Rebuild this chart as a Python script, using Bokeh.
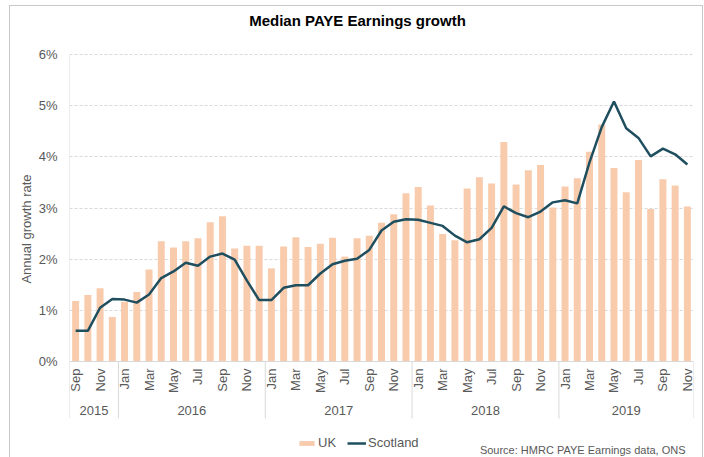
import numpy as np
from bokeh.plotting import figure
from bokeh.models import (Range1d, FixedTicker, LinearAxis, PrintfTickFormatter, Legend,
                          LegendItem, Grid, Label, Span)
from bokeh.core.properties import value
from bokeh.embed import file_html
from bokeh.resources import INLINE

# ---------------- data ----------------
years = ["2015", "2016", "2017", "2018", "2019"]
all_months = ["Jan", "Feb", "Mar", "Apr", "May", "Jun",
              "Jul", "Aug", "Sep", "Oct", "Nov", "Dec"]
months_per_year = [all_months[8:], all_months, all_months, all_months, all_months[:11]]

uk = [1.18, 1.30, 1.43, 0.87,
      1.17, 1.36, 1.80, 2.35, 2.23, 2.35, 2.41, 2.72, 2.84, 2.21, 2.26, 2.26,
      1.82, 2.25, 2.43, 2.24, 2.30, 2.42, 2.05, 2.41, 2.46, 2.71, 2.88, 3.29,
      3.41, 3.05, 2.49, 2.37, 3.38, 3.60, 3.48, 4.29, 3.46, 3.74, 3.84, 3.01,
      3.42, 3.58, 4.10, 4.63, 3.78, 3.31, 3.94, 2.98, 3.56, 3.44, 3.03]
scotland = [0.60, 0.60, 1.05, 1.22,
            1.21, 1.15, 1.31, 1.63, 1.76, 1.93, 1.87, 2.05, 2.11, 1.99, 1.58, 1.20,
            1.20, 1.44, 1.49, 1.49, 1.72, 1.90, 1.97, 2.01, 2.18, 2.56, 2.73, 2.78,
            2.77, 2.71, 2.65, 2.46, 2.33, 2.39, 2.61, 3.03, 2.90, 2.82, 2.93, 3.11,
            3.15, 3.09, 3.89, 4.58, 5.08, 4.56, 4.37, 4.01, 4.16, 4.05, 3.85]
y_ticks = [0, 1, 2, 3, 4, 5, 6]

title_text = "Median PAYE Earnings growth"
y_label = "Annual growth rate"
source_text = "Source: HMRC PAYE Earnings data, ONS"

# ---------------- derived ----------------
month_labels = [m for ms in months_per_year for m in ms]
n = len(month_labels)
x = list(range(n))
counts = [len(ms) for ms in months_per_year]
starts = list(np.cumsum([0] + counts[:-1]))
year_centers = [float(s + (c - 1) / 2) for s, c in zip(starts, counts)]
bounds = [float(s) - 0.5 for s in starts] + [n - 0.5]
mticks = x[::2]

FONT = "Liberation Sans"
GREY_TXT = "#595959"
GRID = "#d9d9d9"
FRAME = "#c8c8c8"

# layout (pixels): plot area 0% at y=361, 6% at y=54, canvas 457 high
W, H = 704, 457
Y0_PX, Y6_PX = 361, 54
ppu = (Y0_PX - Y6_PX) / 6.0
y_top = 6 + Y6_PX / ppu
y_bot = -(H - Y0_PX) / ppu
px = lambda d: d / ppu  # pixel distance -> data units

p = figure(width=W, height=H, x_range=Range1d(-0.5, n - 0.5), y_range=Range1d(y_bot, y_top),
           output_backend="svg", toolbar_location=None,
           x_axis_type=None, y_axis_type=None,
           min_border_left=69, min_border_right=11, min_border_top=0, min_border_bottom=0)
p.outline_line_color = None
p.background_fill_alpha = 0
p.border_fill_alpha = 0
# thin grey chart-area border drawn behind the (transparent) canvas
p.styles = {
    "background-color": "white",
    "background-image": ("linear-gradient(%s,%s), linear-gradient(%s,%s), linear-gradient(%s,%s)"
                         % (FRAME, FRAME, FRAME, FRAME, FRAME, FRAME)),
    "background-size": "1px 100%, 694px 1px, 1px 100%",
    "background-position": "9px 5px, 9px 5px, 702px 5px",
    "background-repeat": "no-repeat",
}

# y axis
yax = LinearAxis(ticker=FixedTicker(ticks=y_ticks),
                 formatter=PrintfTickFormatter(format="%d%%"),
                 axis_label=y_label)
yax.axis_line_color = None
yax.major_tick_line_color = None
yax.minor_tick_line_color = None
yax.major_tick_out = 0
yax.major_tick_in = 0
yax.minor_tick_out = 0
yax.minor_tick_in = 0
yax.major_label_standoff = 12
yax.major_label_text_font = FONT
yax.major_label_text_font_size = "13px"
yax.major_label_text_color = GREY_TXT
yax.axis_label_text_font = FONT
yax.axis_label_text_font_size = "13px"
yax.axis_label_text_font_style = "normal"
yax.axis_label_text_color = GREY_TXT
yax.axis_label_standoff = 2
p.add_layout(yax, "left")

p.add_layout(Grid(dimension=1, ticker=FixedTicker(ticks=y_ticks[1:]),
                  grid_line_color=GRID, grid_line_dash="3 2", grid_line_width=1))

# category axis line, left axis line and year separators
p.add_layout(Span(location=0, dimension="width", line_color=GRID, line_width=1))
p.segment(x0=[bounds[0]], y0=[0], x1=[bounds[0]], y1=[y_ticks[-1]], line_color=GRID, line_width=1)
p.segment(x0=bounds, y0=[0] * len(bounds), x1=bounds, y1=[-px(57)] * len(bounds),
          line_color=GRID, line_width=1)

bars = p.vbar(x=x, top=uk, width=0.57, fill_color="#f8cbad", line_color=None)
line = p.line(x=x, y=scotland, line_color="#1f4e5f", line_width=2.5)

# month and year tick labels
p.text(x=mticks, y=[-px(7)] * len(mticks), text=[month_labels[i] for i in mticks],
       angle=np.pi / 2, text_align="right", text_baseline="middle",
       text_font=value(FONT), text_font_size="13px", text_color=GREY_TXT)
p.text(x=year_centers, y=[-px(49)] * len(years), text=years,
       text_align="center", text_baseline="middle",
       text_font=value(FONT), text_font_size="13px", text_color=GREY_TXT)

legend = Legend(items=[LegendItem(label="UK", renderers=[bars]),
                       LegendItem(label="Scotland", renderers=[line])],
                orientation="horizontal", location=(228, 7),
                padding=0, margin=0, spacing=9, label_standoff=2,
                glyph_width=19, glyph_height=6, label_height=15,
                border_line_color=None, background_fill_alpha=0,
                label_text_font=FONT, label_text_font_size="13px",
                label_text_color=GREY_TXT)
p.add_layout(legend)

# title and source note
p.add_layout(Label(x=357 - 69, y=H - 20, x_units="screen", y_units="screen",
                   text=title_text, text_align="center", text_baseline="middle",
                   text_font=FONT, text_font_size="15px", text_font_style="bold",
                   text_color="#000000"))
p.add_layout(Label(x=685 - 69, y=H - 449, x_units="screen", y_units="screen",
                   text=source_text, text_align="right", text_baseline="middle",
                   text_font=FONT, text_font_size="11px", text_color=GREY_TXT))

open("out.html", "w").write(file_html(p, INLINE))
